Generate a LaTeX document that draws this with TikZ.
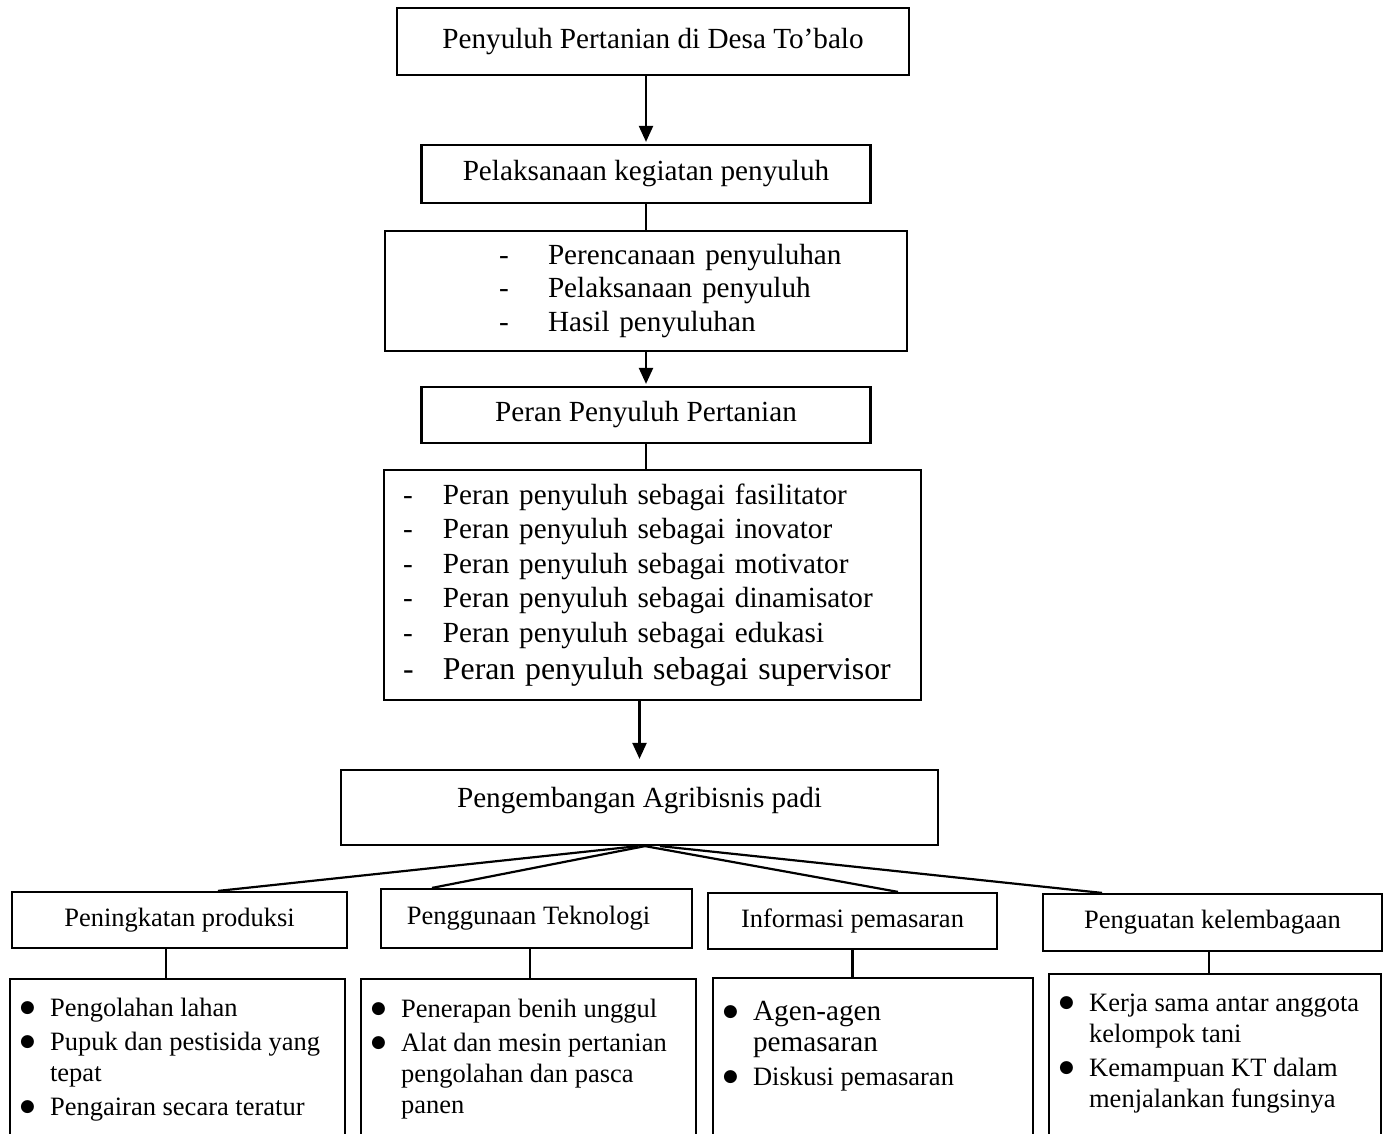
\documentclass[tikz,border=0pt]{standalone}
\usepackage{fontspec}
\setmainfont{Liberation Serif}
\newfontfamily\symfont{DejaVu Sans}
\usetikzlibrary{arrows.meta}

\newcommand{\bul}{\makebox[15pt][l]{\raisebox{1.8pt}{\fontsize{8.5pt}{0pt}\symfont ●}}}
\newcommand{\nobul}{\makebox[15pt][l]{}}
\newcommand{\dsh}[2]{\hspace*{#1}\makebox[#2][l]{-}}

\begin{document}
\begin{tikzpicture}[x=0.5pt,y=-0.5pt,line width=1.1pt,>={Triangle[width=7pt,length=8pt]}]
      \tikzstyle{box}=[draw,inner sep=0pt,font=\fontsize{14.6pt}{16.75pt}\selectfont]
      \tikzstyle{headbox}=[draw,inner sep=0pt,font=\fontsize{13.25pt}{15.5pt}\selectfont]
      \tikzstyle{listbox}=[draw,anchor=north west,inner xsep=5pt,inner ysep=0pt,font=\fontsize{13.25pt}{15.5pt}\selectfont]
      \tikzstyle{flow}=[->,shorten >=1pt]

      \useasboundingbox (0,0) rectangle (1384,1133);
      \clip (0,0) rectangle (1384,1133);

      \node[box,minimum width=256pt,minimum height=33.5pt] (title) at (653,41.5) {Penyuluh Pertanian di Desa To’balo};
      \node[box,minimum width=224.5pt,minimum height=29pt] (kegiatan) at (646,174) {Pelaksanaan kegiatan penyuluh};
      \node[box,text width=261pt,align=left,minimum height=60pt] (plan) at (646,291)
        {\dsh{57pt}{24.5pt}Perencanaan penyuluhan\\ \dsh{57pt}{24.5pt}Pelaksanaan penyuluh\\ \dsh{57pt}{24.5pt}Hasil penyuluhan};
      \node[box,minimum width=224.5pt,minimum height=28pt] (peran) at (646,415) {Peran Penyuluh Pertanian};
      \node[box,text width=268.5pt,align=left,minimum height=115pt,font=\fontsize{14.6pt}{17.25pt}\selectfont] (tugas) at (652.5,585)
        {\dsh{9.5pt}{20pt}Peran penyuluh sebagai fasilitator\\
         \dsh{9.5pt}{20pt}Peran penyuluh sebagai inovator\\
         \dsh{9.5pt}{20pt}Peran penyuluh sebagai motivator\\
         \dsh{9.5pt}{20pt}Peran penyuluh sebagai dinamisator\\
         \dsh{9.5pt}{20pt}Peran penyuluh sebagai edukasi\\[1.25pt]
         {\fontsize{15.9pt}{18.5pt}\selectfont\dsh{9.5pt}{20pt}Peran penyuluh sebagai supervisor}};
      \node[box,minimum width=298.5pt,minimum height=37.5pt,text depth=10pt] (arah) at (639.5,807.5) {Pengembangan Agribisnis padi};

      \node[headbox,minimum width=167.5pt,minimum height=28pt] (prod) at (179.5,920) {Peningkatan produksi};
      \node[headbox,minimum width=155.5pt,minimum height=29.5pt] (tekno) at (536.5,918.5) {Penggunaan Teknologi\hspace*{8pt}};
      \node[headbox,minimum width=144.5pt,minimum height=28pt] (info) at (852.5,921) {Informasi pemasaran};
      \node[headbox,minimum width=169.5pt,minimum height=28.5pt] (lemb) at (1212.5,922.5) {Penguatan kelembagaan};

      \node[listbox] (prodlist) at (9,978) {\parbox[t][90pt][t]{157.5pt}{\rule{0pt}{18.5pt}\bul Pengolahan lahan\\[1.5pt]
        \bul Pupuk dan pestisida yang\\ \nobul tepat\\[1.5pt] \bul Pengairan secara teratur}};
      \node[listbox] (teknolist) at (360,978) {\parbox[t][90pt][t]{157.5pt}{\rule{0pt}{19pt}\bul Penerapan benih unggul\\[1.5pt]
        \bul Alat dan mesin pertanian\\ \nobul pengolahan dan pasca\\ \nobul panen}};
      \node[listbox] (infolist) at (712,977) {\parbox[t][90pt][t]{150pt}{\rule{0pt}{21pt}{\fontsize{14.6pt}{16pt}\selectfont\bul Agen-agen\\
        \nobul pemasaran}\\[1.5pt] \bul Diskusi pemasaran}};
      \node[listbox] (lemblist) at (1048,973) {\parbox[t][90pt][t]{156pt}{\rule{0pt}{18.5pt}\bul Kerja sama antar anggota\\
        \nobul kelompok tani\\[1.5pt] \bul Kemampuan KT dalam\\ \nobul menjalankan fungsinya}};

      \draw[flow] (title.south -| kegiatan.north) -- (kegiatan.north);
      \draw (kegiatan) -- (plan);
      \draw[flow] (plan) -- (peran);
      \draw (peran.south) -- (peran.south |- tugas.north);
      \draw[flow,shorten >=5pt] (tugas.south -| arah.north) -- (arah.north);

      \draw ([xshift=-0.75pt]arah.south) -- ([xshift=19.25pt]prod.north);
      \draw ([xshift=2.75pt]arah.south)  -- ([xshift=-52.25pt]tekno.north);
      \draw ([xshift=2.75pt]arah.south)  -- ([xshift=22.75pt]info.north);
      \draw ([xshift=10.25pt]arah.south) -- ([xshift=-55.25pt]lemb.north);

      \draw ([xshift=-6.75pt]prod.south)  -- ([xshift=-6.75pt]prod.south |- prodlist.north);
      \draw ([xshift=-3.25pt]tekno.south) -- ([xshift=-3.25pt]tekno.south |- teknolist.north);
      \draw (info.south)                  -- (info.south |- infolist.north);
      \draw ([xshift=-1.75pt]lemb.south)  -- ([xshift=-1.75pt]lemb.south |- lemblist.north);
    \end{tikzpicture}
\end{document}
